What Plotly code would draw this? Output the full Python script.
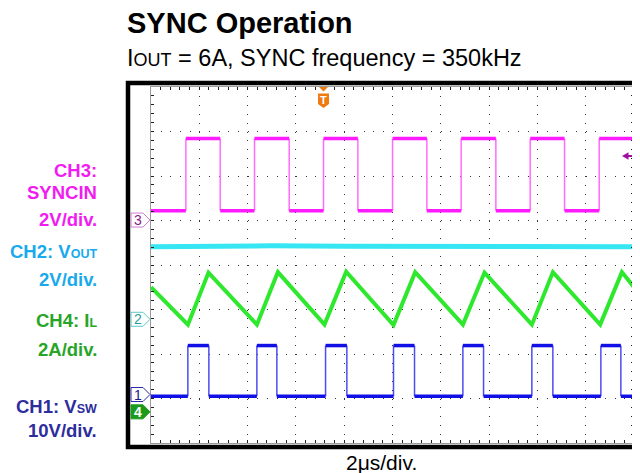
import plotly.graph_objects as go

# ---------------- data (time in 2 us divisions, amplitude in screen divisions) ----------------
x_range = [0, 10]
y_range = [-4, 4]

ch3_rise = [0.722, 2.143, 3.572, 5.001, 6.422, 7.851, 9.280]
ch3_fall = [1.433, 2.861, 4.283, 5.712, 7.140, 8.562]
ch3_low = 1.22
ch3_high = 2.84

ch1_rise = [0.763, 2.192, 3.614, 5.021, 6.457, 7.885, 9.314]
ch1_fall = [1.198, 2.606, 4.055, 5.456, 6.885, 8.320, 9.728]
ch1_low = -2.95
ch1_high = -1.81

ch4_t = [0.0, 0.764, 1.190, 2.193, 2.627, 3.592, 4.041, 5.021, 5.470, 6.458, 6.905, 7.886, 8.321, 9.300, 9.749, 10.0]
ch4_v = [-0.50, -1.34, -0.17, -1.34, -0.16, -1.34, -0.15, -1.35, -0.16, -1.34, -0.17, -1.34, -0.16, -1.34, -0.16, -0.50]

ch2_t = [0.0, 1.0, 2.5, 4.0, 5.0, 6.5, 8.0, 9.0, 10.0]
ch2_v = [0.41, 0.42, 0.43, 0.42, 0.42, 0.41, 0.43, 0.42, 0.41]

marker_names = ["3", "2", "1", "4"]
marker_levels = [1.01, -1.22, -2.91, -3.30]
trigger_time = 3.572
trigger_level = 2.45


def small(txt, size):
    return f'<span style="font-size:{size}px">{txt}</span>'


title_text = "SYNC Operation"
subtitle_text = "I" + small("OUT", 18) + " = 6A, SYNC frequency = 350kHz"
xlabel_text = "2\u03bcs/div."

# ---------------- layout helpers ----------------
OFF = 8                     # page body margin offset
W, H = 640 - OFF, 473 - OFF
L, R, T, B = 151 - OFF, 6, 87 - OFF, 30
PW, PH = W - L - R, H - T - B
XDIV = PW / (x_range[1] - x_range[0])
YDIV = PH / (y_range[1] - y_range[0])


def pxp(xpix):  # target-picture pixel -> paper x
    return (xpix - OFF - L) / PW


def pyp(ypix):  # target-picture pixel -> paper y
    return (H - B - (ypix - OFF)) / PH


FONT = "Liberation Sans, Arial, sans-serif"


def square(rises, falls, low, high, t0=0.0, t1=10.0):
    ev = sorted([(t, high) for t in rises] + [(t, low) for t in falls])
    cur = low if ev[0][1] == high else high
    fx, fy, ex, ey = [], [], [], []
    prev = t0
    for t, lvl in ev:
        fx += [prev, t, None]
        fy += [cur, cur, None]
        ex += [t, t, None]
        ey += [cur, lvl, None]
        cur, prev = lvl, t
    fx += [prev, t1]
    fy += [cur, cur]
    return fx, fy, ex, ey


fig = go.Figure()

# CH2 Vout (cyan)
fig.add_trace(go.Scatter(x=ch2_t, y=ch2_v, mode="lines",
                         line=dict(color="#36e6f2", width=5), hoverinfo="skip"))
# CH3 SYNCIN (magenta)
fx, fy, ex, ey = square(ch3_rise, ch3_fall, ch3_low, ch3_high)
fig.add_trace(go.Scatter(x=ex, y=ey, mode="lines", line=dict(color="#ff6cff", width=1.5), hoverinfo="skip"))
fig.add_trace(go.Scatter(x=fx, y=fy, mode="lines", line=dict(color="#ff1aff", width=3.5), hoverinfo="skip"))
# CH4 IL (green)
fig.add_trace(go.Scatter(x=ch4_t, y=ch4_v, mode="lines",
                         line=dict(color="#2ee82e", width=4), hoverinfo="skip"))
# CH1 Vsw (blue)
fx, fy, ex, ey = square(ch1_rise, ch1_fall, ch1_low, ch1_high)
fig.add_trace(go.Scatter(x=ex, y=ey, mode="lines", line=dict(color="#4c4cf2", width=1.5), hoverinfo="skip"))
fig.add_trace(go.Scatter(x=fx, y=fy, mode="lines", line=dict(color="#1010e6", width=3.5), hoverinfo="skip"))

common_ax = dict(showticklabels=False, zeroline=False, fixedrange=True)
fig.update_layout(
    width=W, height=H, margin=dict(l=L, r=R, t=T, b=B),
    paper_bgcolor="white", plot_bgcolor="white", showlegend=False,
    xaxis=dict(range=x_range, dtick=1, tick0=0, showgrid=True, gridcolor="#333333", gridwidth=1,
               griddash="1px,7.9px", showline=True, linecolor="#9a9a9a", linewidth=1, mirror="allticks",
               ticks="inside", ticklen=3, tickcolor="#222", tickwidth=1,
               minor=dict(dtick=0.2, ticks="inside", ticklen=3, tickcolor="#222", showgrid=False),
               **common_ax),
    yaxis=dict(range=y_range, dtick=1, tick0=0, showgrid=True, gridcolor="#333333", gridwidth=1,
               griddash="1px,8.66px", showline=True, linecolor="#9a9a9a", linewidth=1, mirror="allticks",
               ticks="inside", ticklen=3, tickcolor="#222", tickwidth=1,
               minor=dict(dtick=0.2, ticks="inside", ticklen=3, tickcolor="#222", showgrid=False),
               **common_ax),
    xaxis2=dict(range=x_range, overlaying="x", anchor="free", position=0.5, dtick=0.2, tick0=0,
                ticks="inside", ticklen=2.5, tickcolor="#222", showgrid=False, showline=False, **common_ax),
    xaxis3=dict(range=x_range, overlaying="x", anchor="free", position=0.5, dtick=0.2, tick0=0,
                ticks="outside", ticklen=2.5, tickcolor="#222", showgrid=False, showline=False, **common_ax),
    yaxis2=dict(range=y_range, overlaying="y", anchor="free", position=0.5, dtick=0.2, tick0=0,
                ticks="inside", ticklen=2.5, tickcolor="#222", showgrid=False, showline=False, **common_ax),
    yaxis3=dict(range=y_range, overlaying="y", anchor="free", position=0.5, dtick=0.2, tick0=0,
                ticks="outside", ticklen=2.5, tickcolor="#222", showgrid=False, showline=False, **common_ax),
)

shapes = []
# black scope frame
shapes.append(dict(type="rect", xref="paper", yref="paper", x0=pxp(128), x1=pxp(637.5),
                   y0=pyp(447), y1=pyp(83), line=dict(color="black", width=4.5)))

# channel ground markers (pentagons pointing right)
marker_style = {
    "3": dict(line="#cc80cc", fill="white", text="#8a1a8a", bold=False),
    "2": dict(line="#60c8c8", fill="white", text="#1f9f9f", bold=False),
    "1": dict(line="#2a2aa8", fill="white", text="#1a1a8c", bold=False),
    "4": dict(line="#1c9a1c", fill="#1c9a1c", text="white", bold=True),
}
hh = 7.0 / YDIV
for name, lvl in zip(marker_names, marker_levels):
    st = marker_style[name]
    x0, x1, x2 = pxp(131), pxp(143), pxp(150)
    path = (f"M {x0},{lvl - hh} L {x1},{lvl - hh} L {x2},{lvl} L {x1},{lvl + hh} "
            f"L {x0},{lvl + hh} Z")
    shapes.append(dict(type="path", xref="paper", yref="y", path=path,
                       fillcolor=st["fill"], line=dict(color=st["line"], width=1)))

# trigger position marker (orange "T")
dx = 5.5 / XDIV
tx = trigger_time
shapes.append(dict(type="path", xref="x", yref="paper",
                   path=(f"M {tx - 4.5 / XDIV},{pyp(87)} L {tx + 4.5 / XDIV},{pyp(87)} "
                         f"L {tx},{pyp(91.5)} Z"),
                   fillcolor="#f07a12", line=dict(width=0)))
shapes.append(dict(type="path", xref="x", yref="paper",
                   path=(f"M {tx - dx},{pyp(93.5)} L {tx + dx},{pyp(93.5)} L {tx + dx},{pyp(104)} "
                         f"L {tx},{pyp(108)} L {tx - dx},{pyp(104)} Z"),
                   fillcolor="#f07a12", line=dict(width=0)))

# trigger level arrow (right side)
ah = 3.8 / YDIV
sh = 1.0 / YDIV
shapes.append(dict(type="path", xref="paper", yref="y",
                   path=(f"M {pxp(622)},{trigger_level} L {pxp(628.5)},{trigger_level + ah} "
                         f"L {pxp(628.5)},{trigger_level + sh} L {pxp(633.5)},{trigger_level + sh} "
                         f"L {pxp(633.5)},{trigger_level - sh} L {pxp(628.5)},{trigger_level - sh} "
                         f"L {pxp(628.5)},{trigger_level - ah} Z"),
                   fillcolor="#a010a0", line=dict(width=0)))

fig.update_layout(shapes=shapes)

ann = []


def add_text(text, xpix, ypix, size, color, bold=False, xanchor="right"):
    t = f"<b>{text}</b>" if bold else text
    ann.append(dict(text=t, xref="paper", yref="paper", x=pxp(xpix), y=pyp(ypix),
                    xanchor=xanchor, yanchor="middle", showarrow=False,
                    font=dict(family=FONT, size=size, color=color)))


# title and subtitle
add_text(title_text, 125, 22.5, 29, "black", bold=True, xanchor="left")
add_text(subtitle_text, 125, 58, 23.5, "black", xanchor="left")
# bottom label
add_text(xlabel_text, 381, 463, 21, "black", xanchor="center")

# channel labels
mag, cya, grn, nav = "#f01cf0", "#19aaec", "#27a527", "#2d2d9e"
LS = 18.5
SS = 12.5
add_text("CH3:", 98.5, 170, LS, mag, bold=True)
add_text("SYNCIN", 98.5, 192.5, LS, mag, bold=True)
add_text("2V/div.", 98.5, 219, LS, mag, bold=True)
add_text("CH2: V" + small("OUT", SS), 98.5, 251, LS, cya, bold=True)
add_text("2V/div.", 98.5, 279, LS, cya, bold=True)
add_text("CH4: I" + small("L", SS), 98.5, 320, LS, grn, bold=True)
add_text("2A/div.", 98.5, 349, LS, grn, bold=True)
add_text("CH1: V" + small("SW", SS), 98.5, 406, LS, nav, bold=True)
add_text("10V/div.", 98.5, 430, LS, nav, bold=True)

# marker digits
for name, lvl in zip(marker_names, marker_levels):
    st = marker_style[name]
    txt = f"<b>{name}</b>" if st["bold"] else name
    ann.append(dict(text=txt, xref="paper", yref="y", x=pxp(138), y=lvl,
                    xanchor="center", yanchor="middle", showarrow=False,
                    font=dict(family=FONT, size=14, color=st["text"])))

# trigger "T"
ann.append(dict(text="<b>T</b>", xref="x", yref="paper", x=trigger_time, y=pyp(99.5),
                xanchor="center", yanchor="middle", showarrow=False,
                font=dict(family=FONT, size=11, color="white")))

fig.update_layout(annotations=ann)

fig.write_html("out.html")
